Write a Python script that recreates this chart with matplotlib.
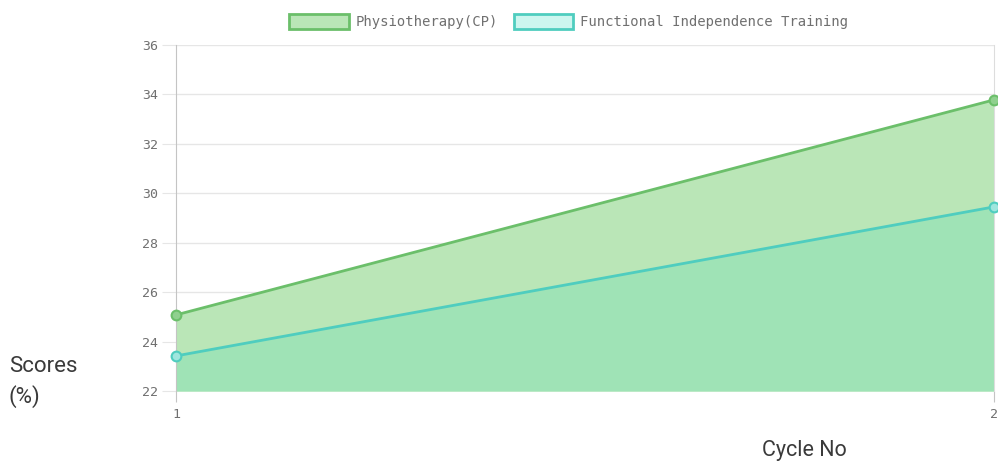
import matplotlib
matplotlib.use("Agg")
import matplotlib.pyplot as plt
from matplotlib.patches import Patch

cycles = [1, 2]
physio = [25.08, 33.78]
functional = [23.42, 29.45]
series_names = ["Physiotherapy(CP)", "Functional Independence Training"]
y_ticks = [22, 24, 26, 28, 30, 32, 34, 36]

green_line = "#6bbf6a"
green_fill = "#bae6b7"
teal_line = "#4fcdbf"
teal_fill = "#9fe3b6"
teal_legend = "#ccf6ef"

fig = plt.figure(figsize=(9.98, 4.61), dpi=100)
ax = fig.add_axes([0.1764, 0.1518, 0.8196, 0.7506])

# filled areas down to the axis bottom
ax.fill_between(cycles, 22, physio, color=green_fill, lw=0, zorder=1)
ax.fill_between(cycles, 22, functional, color=teal_fill, lw=0, zorder=2)

ax.plot(cycles, physio, color=green_line, lw=2, marker="o", ms=7,
        mfc="#8fd08e", mec=green_line, mew=1.5, zorder=4, clip_on=False)
ax.plot(cycles, functional, color=teal_line, lw=2, marker="o", ms=7,
        mfc="#9fe6de", mec=teal_line, mew=1.5, zorder=4, clip_on=False)

ax.set_xlim(1, 2)
ax.set_ylim(22, 36)
ax.set_yticks(y_ticks)
ax.set_xticks(cycles)
ax.set_xticklabels(["1", "2"])
ax.grid(axis="y", color="#e6e6e6", lw=1, zorder=0)
ax.set_axisbelow(True)

for side in ["top", "bottom"]:
    ax.spines[side].set_visible(False)
ax.spines["left"].set_color("#c4c4c4")
ax.spines["right"].set_color("#dddddd")

ax.tick_params(axis="y", length=10, color="#e6e6e6", pad=3,
               labelsize=9.5, labelcolor="#707070")
ax.tick_params(axis="x", length=8, color="#c4c4c4", pad=4,
               labelsize=9.5, labelcolor="#707070")
for lab in ax.get_xticklabels() + ax.get_yticklabels():
    lab.set_family("DejaVu Sans Mono")

fig.text(0.009, 0.193, "Scores", fontsize=16, family="Roboto",
         color="#3a3a3a", ha="left", va="baseline")
fig.text(0.009, 0.126, "(%)", fontsize=16, family="Roboto",
         color="#3a3a3a", ha="left", va="baseline")
fig.text(0.806, 0.010, "Cycle No", fontsize=15.5, family="Roboto",
         color="#3a3a3a", ha="center", va="baseline")

handles = [
    Patch(facecolor=green_fill, edgecolor=green_line, lw=2),
    Patch(facecolor=teal_legend, edgecolor=teal_line, lw=2),
]
leg = fig.legend(handles, series_names, loc="center", bbox_to_anchor=(0.570, 0.953),
                 ncol=2, frameon=False, handlelength=4.3, handleheight=1.2,
                 columnspacing=1.1, handletextpad=0.5,
                 prop={"family": "DejaVu Sans Mono", "size": 10})
for t in leg.get_texts():
    t.set_color("#707070")

fig.savefig("out.png", dpi=100)
